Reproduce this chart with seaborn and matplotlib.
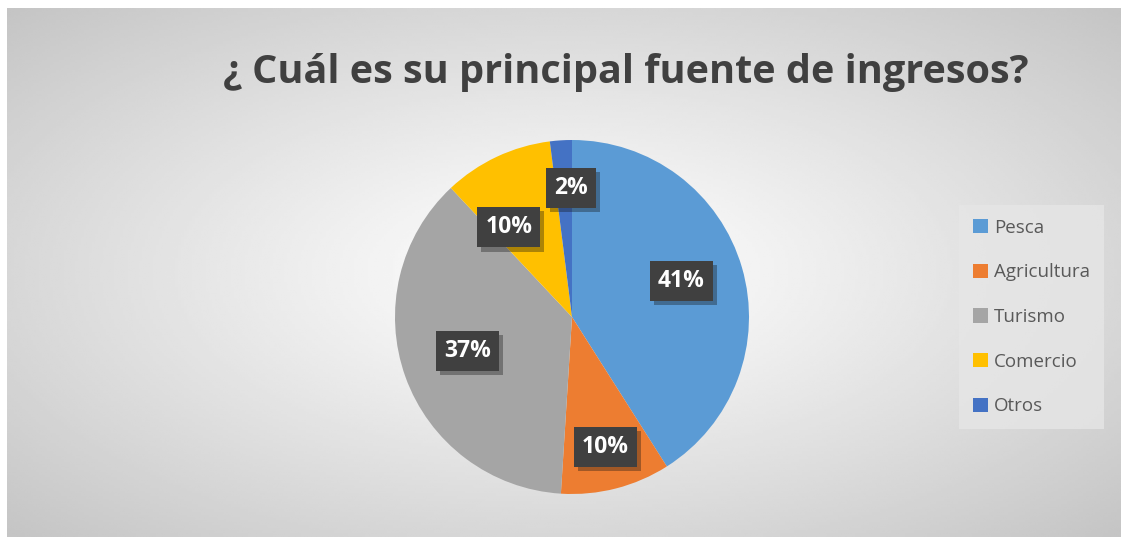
import numpy as np
import matplotlib
matplotlib.use("Agg")
import matplotlib.pyplot as plt
import matplotlib.patheffects as pe
import seaborn as sns

sns.set_theme(style="white")
plt.rcParams['font.family'] = ['Open Sans', 'DejaVu Sans']

# data
categorias = ["Pesca", "Agricultura", "Turismo", "Comercio", "Otros"]
porcentajes = [41, 10, 37, 10, 2]
colores = ["#5B9BD5", "#ED7D31", "#A5A5A5", "#FFC000", "#4472C4"]
titulo = "¿ Cuál es su principal fuente de ingresos?"

# label placement: distance from centre (fraction of radius) and angle shift (deg)
dist_etiquetas = [0.65, 0.76, 0.62, 0.62, 0.73]
giro_etiquetas = [2, 0, -2, 10, -3]

W, H = 1121, 539
fig = plt.figure(figsize=(W / 100, H / 100), dpi=100)

# background: white margin + radial gray gradient (excel style)
bg = fig.add_axes([0, 0, 1, 1])
bg.set_xlim(0, W)
bg.set_ylim(H, 0)
bg.axis("off")
x0, y0, x1, y1 = 7, 8, W, 537
xx, yy = np.meshgrid(np.linspace(x0, x1, 400), np.linspace(y0, y1, 200))
cx, cy = (x0 + x1) / 2, (y0 + y1) / 2
r = np.sqrt(((xx - cx) / ((x1 - x0) / 2)) ** 2 + ((yy - cy) / ((y1 - y0) / 2)) ** 2) / np.sqrt(2)
gris = 1.0 - 0.23 * np.clip(r, 0, 1) ** 1.1
bg.imshow(gris, cmap="gray", vmin=0, vmax=1, extent=(x0, x1, y1, y0), aspect="auto", interpolation="bilinear")

# pie
R = 177
pcx, pcy = 572, 317
ax = fig.add_axes([(pcx - R) / W, (H - pcy - R) / H, 2 * R / W, 2 * R / H])
wedges, _ = ax.pie(porcentajes, colors=colores, startangle=90, counterclock=False,
                   wedgeprops=dict(linewidth=0))
ax.set_xlim(-1, 1)
ax.set_ylim(-1, 1)
ax.set_aspect("equal")
ax.axis("off")

for w, val, d, g in zip(wedges, porcentajes, dist_etiquetas, giro_etiquetas):
    ang = np.deg2rad((w.theta1 + w.theta2) / 2 + g)
    t = ax.text(d * np.cos(ang), d * np.sin(ang), f"{val}%", ha="center", va="center",
                color="white", fontsize=16.5, fontweight="bold",
                bbox=dict(boxstyle="square,pad=0.35", facecolor="#404040", edgecolor="none"))
    t.get_bbox_patch().set_path_effects([pe.SimplePatchShadow(offset=(3, -3), alpha=0.35),
                                         pe.Normal()])

fig.text(626 / W, 1 - 72 / H, titulo, ha="center", va="center", fontsize=28.5,
         fontweight="bold", color="#404040")

leg = ax.legend(wedges, categorias, loc="center left", bbox_to_anchor=(959 / W, 1 - 317 / H),
                bbox_transform=fig.transFigure, frameon=True, fontsize=13.5,
                handlelength=0.8, handleheight=0.8, handletextpad=0.3,
                labelspacing=1.42, borderpad=0.75, borderaxespad=0, fancybox=False)
leg.get_frame().set_facecolor("#e6e6e6")
leg.get_frame().set_alpha(0.8)
leg.get_frame().set_edgecolor("none")
for txt in leg.get_texts():
    txt.set_color("#595959")

fig.savefig("out.png", dpi=100)
